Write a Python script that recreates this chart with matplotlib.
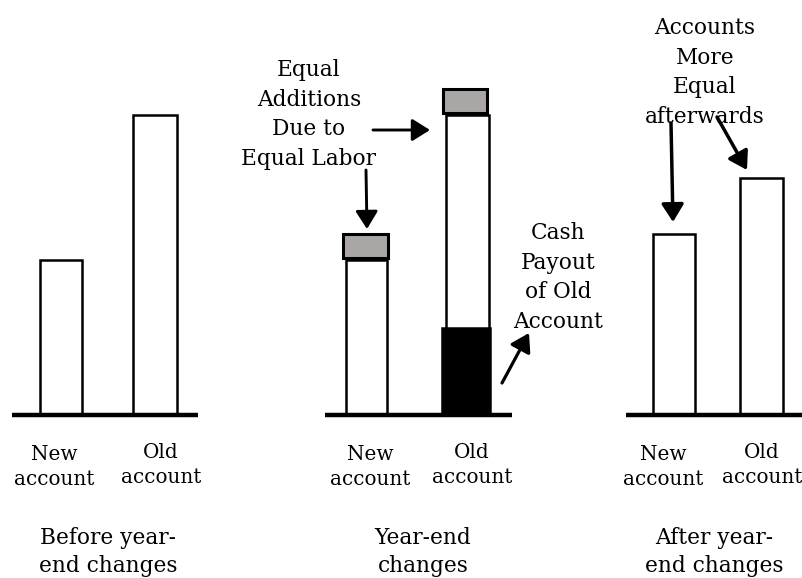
import matplotlib
matplotlib.use('Agg')
import matplotlib.pyplot as plt

plt.rcParams['font.family'] = ['DejaVu Serif']

# ---- data (heights above the baseline, arbitrary units) ----
categories = ['New\naccount', 'Old\naccount']
before_values = [155, 300]
addition_values = [24, 24]
payout_values = [0, 87]
after_values = [181, 237]
panel_titles = ['Before year-\nend changes', 'Year-end\nchanges', 'After year-\nend changes']
note_additions = 'Equal\nAdditions\nDue to\nEqual Labor'
note_payout = 'Cash\nPayout\nof Old\nAccount'
note_after = 'Accounts\nMore\nEqual\nafterwards'

fig = plt.figure(figsize=(8.03, 5.78), dpi=100)
ax = fig.add_axes([0, 0, 1, 1])
ax.set_xlim(0, 803)
ax.set_ylim(-163, 415)
ax.axis('off')

EDGE = 1.8
GRAY = '#aba6a6'

# Panel 1: before
ax.bar([61, 155], before_values, width=[42, 44], color='white',
       edgecolor='black', linewidth=EDGE, zorder=2)

# Panel 2: year-end changes
ax.bar([366.5, 467.5], before_values, width=[41, 43.5], color='white',
       edgecolor='black', linewidth=EDGE, zorder=2)
px = [p for p, v in zip([366, 466], payout_values) if v > 0]
pv = [v for v in payout_values if v > 0]
ax.bar(px, pv, width=48, color='black', edgecolor='black',
       linewidth=EDGE, zorder=3)
ax.bar([365.5, 465], addition_values, bottom=[v + 2.5 for v in before_values],
       width=[45, 44], color=GRAY, edgecolor='black', linewidth=2.2, zorder=3)

# Panel 3: after
ax.bar([674, 761.5], after_values, width=[42, 43], color='white',
       edgecolor='black', linewidth=EDGE, zorder=2)

# baselines
for x0, x1 in [(12, 198), (325, 512), (626, 803)]:
    ax.plot([x0, x1], [0, 0], color='black', lw=3.2,
            solid_capstyle='butt', zorder=5)

# category labels (y = baseline of the last line)
label_pos = [(54, 370, 663), (161, 472, 762)]
for ci, cat in enumerate(categories):
    yb = -70 if ci == 0 else -68
    for xc in label_pos[ci]:
        ax.text(xc, yb, cat, ha='center', va='baseline', fontsize=14.4,
                linespacing=1.42, multialignment='center')

# panel titles
for xc, t in zip([108, 423, 714], panel_titles):
    ax.text(xc, -157, t, ha='center', va='baseline', fontsize=15.6,
            linespacing=1.36, multialignment='center')

# annotations
for xc, yb, t in [(309, 250, note_additions), (558, 87, note_payout),
                  (705, 292, note_after)]:
    ax.text(xc, yb, t, ha='center', va='baseline', fontsize=15.6,
            linespacing=1.45, multialignment='center')

def arrow(x0, y0, x1, y1, lw):
    ax.annotate('', xy=(x1, y1), xytext=(x0, y0), zorder=6,
                arrowprops=dict(arrowstyle='-|>,head_length=0.4,head_width=0.25',
                                lw=lw, color='black', shrinkA=0, shrinkB=0,
                                mutation_scale=27))

arrow(373, 285, 430, 285, 2.1)
arrow(366, 245, 367, 186, 2.1)
arrow(502, 32, 529, 82, 2.3)
arrow(671, 292, 673, 193, 2.5)
arrow(717, 298, 747, 245, 2.5)

fig.savefig('out.png', dpi=100)
